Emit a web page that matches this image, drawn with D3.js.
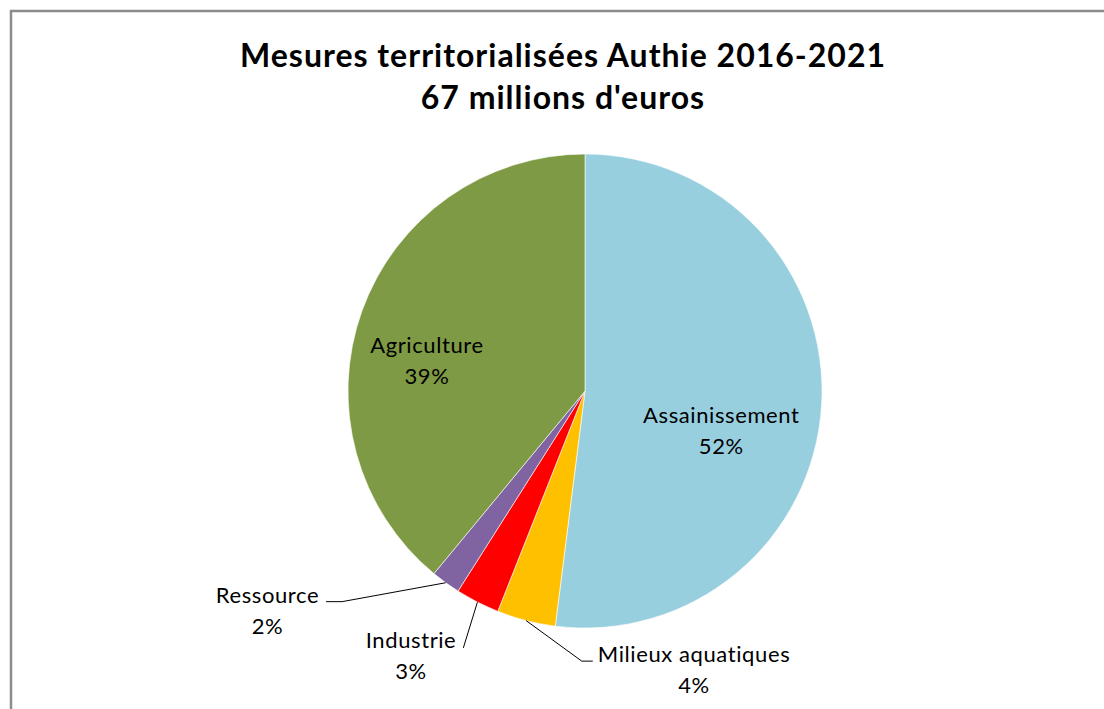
<!DOCTYPE html>
<html>
<head>
<meta charset="utf-8">
<script src="https://cdn.jsdelivr.net/npm/d3@7"></script>
<style>
  body { margin: 0; background: #fff; }
  svg { display: block; }
</style>
</head>
<body>
<svg id="chart" width="1104" height="709"></svg>
<script>
// data
var categories = ["Assainissement", "Milieux aquatiques", "Industrie", "Ressource", "Agriculture"];
var shares = [52, 4, 3, 2, 39];
var sliceColors = ["#98CFDF", "#FFC000", "#FF0000", "#8064A2", "#7E9A45"];
var titleLines = ["Mesures territorialisées Authie 2016-2021", "67 millions d'euros"];

(function() {
  'use strict';

  var svg = d3.select("#chart");
  var cx = 585, cy = 391, radius = 237;

  // chart frame (runs off the right and bottom of the shot)
  svg.append("rect")
    .attr("x", 11).attr("y", 11)
    .attr("width", 1110).attr("height", 720)
    .attr("fill", "#fff")
    .attr("stroke", "#8c8c8c")
    .attr("stroke-width", 2.5);

  var title = svg.append("g")
    .attr("font-family", "Lato, 'Open Sans', sans-serif")
    .attr("font-weight", "bold")
    .attr("font-size", 32)
    .attr("letter-spacing", 1)
    .attr("text-anchor", "middle")
    .attr("fill", "#000");

  title.selectAll("text")
    .data(titleLines)
    .enter().append("text")
    .attr("x", 563)
    .attr("y", function(d, i) { return 67 + i * 42; })
    .text(function(d) { return d; });

  var data = categories.map(function(c, i) {
    return {name: c, value: shares[i], color: sliceColors[i]};
  });

  var pie = d3.pie().sort(null).value(function(d) { return d.value; });
  var arcs = pie(data);
  var arc = d3.arc().innerRadius(0).outerRadius(radius);

  var g = svg.append("g").attr("transform", "translate(" + cx + "," + cy + ")");

  g.selectAll("path")
    .data(arcs)
    .enter().append("path")
    .attr("d", arc)
    .attr("fill", function(d) { return d.data.color; })
    .attr("stroke", "#fff")
    .attr("stroke-width", 0.6);

  // label placement, in radius units from pie center (inside = no leader)
  var labelLayout = {
    "Assainissement":     {x: 0.575, y: 0.135, inside: true},
    "Agriculture":        {x: -0.667, y: -0.16, inside: true},
    "Milieux aquatiques": {x: 0.46, y: 1.144},
    "Industrie":          {x: -0.734, y: 1.084},
    "Ressource":          {x: -1.34, y: 0.893}
  };

  var labels = g.append("g")
    .attr("font-family", "Lato, 'Open Sans', sans-serif")
    .attr("font-size", 22)
    .attr("letter-spacing", 0.6)
    .attr("text-anchor", "middle")
    .attr("fill", "#000");

  arcs.forEach(function(a) {
    var L = labelLayout[a.data.name];
    var lx = L.x * radius, ly = L.y * radius;
    var t = labels.append("text").attr("x", lx).attr("y", ly);
    t.append("tspan").attr("x", lx).attr("dy", 0).text(a.data.name);
    t.append("tspan").attr("x", lx).attr("dy", 31).text(a.data.value + "%");

    if (L.inside) return;

    // leader line from slice edge to label
    var mid = (a.startAngle + a.endAngle) / 2;
    var ex = Math.sin(mid) * radius, ey = -Math.cos(mid) * radius;
    var w = t.select("tspan").node().getComputedTextLength();
    var pts;
    var lineY = ly - 1;
    if (a.data.name === "Industrie") {
      pts = [[ex, ey], [lx + w / 2 + 7, ly]];
    } else if (lx > 0) {
      var tx = lx - w / 2 - 5;
      pts = [[ex, ey], [tx - 11, lineY], [tx, lineY]];
    } else {
      var rx = lx + w / 2 + 7;
      pts = [[ex, ey], [rx + 16, lineY], [rx, lineY]];
    }
    g.append("path")
      .attr("d", d3.line()(pts))
      .attr("fill", "none")
      .attr("stroke", "#000")
      .attr("stroke-width", 1);
  });
})();
</script>
</body>
</html>
